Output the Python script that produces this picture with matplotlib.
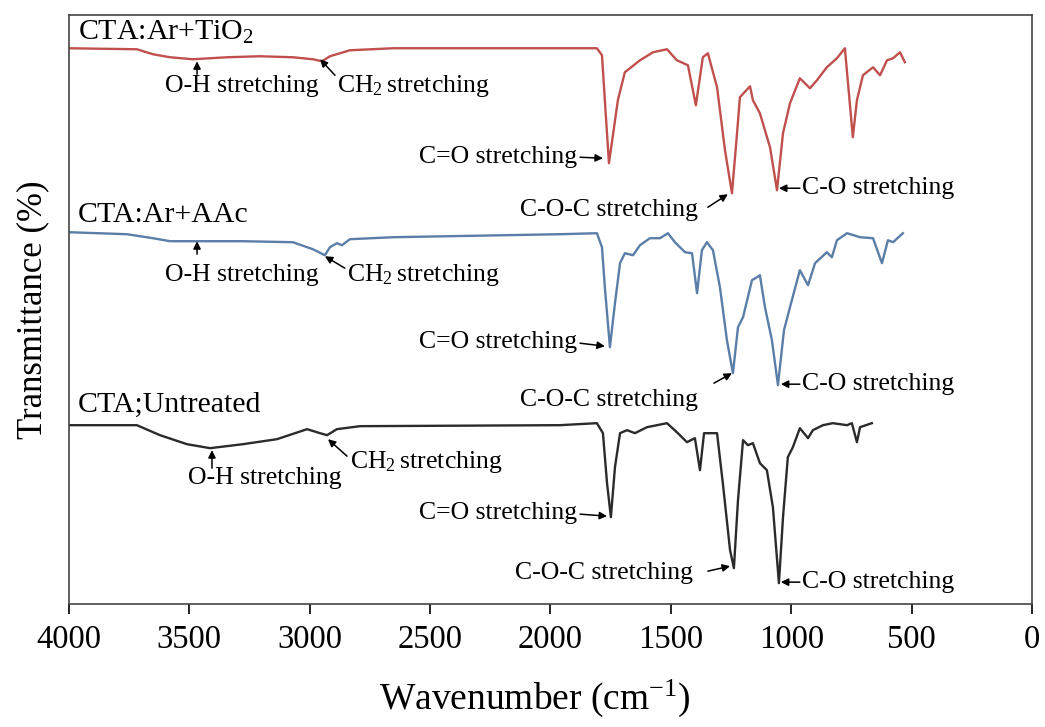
import matplotlib
matplotlib.use("Agg")
import matplotlib.pyplot as plt

plt.rcParams['font.family'] = ['Liberation Serif', 'DejaVu Serif']
plt.rcParams['mathtext.fontset'] = 'custom'
plt.rcParams['mathtext.rm'] = 'Liberation Serif'
plt.rcParams['mathtext.default'] = 'regular'

# wavenumber (cm-1) and apparent depth (top of plot = small value)
wn_tio2 = [4000, 3718, 3651, 3580, 3485, 3344, 3207, 3070, 2987, 2949, 2916, 2833, 2654,
           1807, 1786, 1774, 1757, 1720, 1691, 1628, 1574, 1516, 1475, 1429, 1396, 1367,
           1346, 1308, 1275, 1246, 1225, 1213, 1171, 1159, 1130, 1088, 1059, 1034, 1005,
           964, 922, 893, 852, 810, 777, 764, 744, 727, 702, 660, 631, 602, 577, 548, 528]
t_tio2 = [48, 49, 54, 57, 59, 57, 56, 57, 59, 61, 56, 50, 48,
          48, 55, 100, 163, 100, 72, 60, 52, 49, 60, 65, 105, 57,
          53, 87, 150, 193, 133, 97, 86, 100, 113, 147, 190, 133, 103,
          78, 88, 80, 67, 58, 48, 83, 137, 100, 75, 67, 75, 60, 58, 52, 62]

wn_aac = [4000, 3759, 3651, 3580, 3485, 3277, 3070, 2987, 2937, 2916, 2887, 2866, 2833,
          2654, 1961, 1807, 1786, 1774, 1753, 1732, 1711, 1691, 1657, 1628, 1587, 1545,
          1512, 1483, 1441, 1412, 1391, 1371, 1350, 1325, 1296, 1267, 1242, 1221, 1200,
          1163, 1142, 1130, 1109, 1080, 1055, 1030, 1005, 964, 930, 901, 852, 831, 810,
          768, 714, 660, 623, 598, 577, 536]
t_aac = [232, 234, 238, 241, 241, 241, 242, 249, 255, 247, 243, 245, 239,
         237, 234, 233, 247, 287, 347, 303, 263, 253, 255, 245, 238, 238,
         233, 242, 252, 253, 293, 250, 242, 250, 287, 340, 373, 327, 317,
         280, 277, 275, 307, 340, 385, 330, 307, 270, 285, 263, 252, 257, 240,
         233, 237, 238, 263, 240, 242, 233]

wn_untr = [4000, 3718, 3622, 3510, 3414, 3277, 3136, 3011, 2957, 2928, 2887, 2791, 1961,
           1807, 1782, 1765, 1749, 1732, 1711, 1682, 1649, 1599, 1516, 1475, 1433, 1400,
           1379, 1362, 1308, 1284, 1254, 1238, 1221, 1200, 1180, 1159, 1130, 1101, 1076,
           1051, 1034, 1014, 993, 964, 930, 910, 868, 827, 768, 748, 727, 714, 665]
t_untr = [425, 425, 435, 444, 448, 444, 439, 429, 433, 435, 429, 426, 425,
          423, 433, 483, 517, 467, 433, 430, 433, 427, 423, 432, 442, 438,
          470, 433, 433, 483, 550, 568, 500, 440, 445, 443, 463, 470, 507,
          583, 517, 457, 447, 428, 438, 430, 425, 423, 425, 423, 442, 427, 423]

fig = plt.figure(figsize=(10.45, 7.27), dpi=100)
ax = fig.add_axes([0.066, 0.169, 0.9215, 0.81])

ax.plot(wn_tio2, t_tio2, color='#c0504d', lw=1.7, solid_joinstyle='round')
ax.plot(wn_aac, t_aac, color='#5a7ea8', lw=1.7, solid_joinstyle='round')
ax.plot(wn_untr, t_untr, color='#2b2b2b', lw=1.7, solid_joinstyle='round')

ax.set_xlim(4000, 0)
ax.set_ylim(604, 15)
ax.set_xticks(range(0, 4001, 500))
ax.set_yticks([])
ax.tick_params(axis='x', direction='out', length=7, width=1.2, pad=8, labelsize=23.5)
for s in ax.spines.values():
    s.set_color('#444444')
    s.set_linewidth(1.2)

ax.set_xlabel('Wavenumber (cm$^{-1}$)', fontsize=27)
ax.xaxis.set_label_coords(0.484, -0.125)
ax.set_ylabel('Transmittance (%)', fontsize=25, labelpad=14)

lab = 21.5
ann = 18.5
arr = dict(arrowstyle='-|>', color='black', lw=1.1, mutation_scale=11, shrinkA=0, shrinkB=0)


def note(txt, tx, ty, tail, tip, ha='left'):
    ax.text(tx, ty, txt, fontsize=ann, ha=ha, va='center')
    ax.annotate('', xy=tip, xytext=tail, arrowprops=arr)


# sample labels
ax.text(3963, 32, 'CTA:Ar+TiO$_2$', fontsize=lab, va='center')
ax.text(3963, 215, 'CTA:Ar+AAc', fontsize=lab, va='center')
ax.text(3963, 405, 'CTA;Untreated', fontsize=lab, va='center')

ch2 = 'CH$_2\\,$stretching'

# CTA:Ar+TiO2
note('O-H stretching', 3601, 86, (3468, 74), (3468, 61))
note(ch2, 2887, 86, (2895, 75), (2957, 59))
note('C=O stretching', 1890, 157, (1877, 157), (1782, 158), ha='right')
note('C-O-C stretching', 2127, 210, (1346, 207), (1263, 194))
note('C-O stretching', 955, 188, (964, 188), (1051, 188))

# CTA:Ar+AAc
note('O-H stretching', 3601, 275, (3468, 254), (3468, 241))
note(ch2, 2845, 275, (2854, 268), (2937, 256))
note('C=O stretching', 1890, 342, (1877, 343), (1774, 346), ha='right')
note('C-O-C stretching', 2127, 400, (1321, 383), (1246, 373))
note('C-O stretching', 955, 384, (964, 384), (1043, 384))

# CTA;Untreated
note('O-H stretching', 3506, 478, (3406, 468), (3406, 450))
note(ch2, 2833, 462, (2845, 456), (2924, 439))
note('C=O stretching', 1890, 513, (1877, 514), (1765, 516), ha='right')
note('C-O-C stretching', 2148, 573, (1346, 571), (1254, 566))
note('C-O stretching', 955, 582, (964, 582), (1043, 582))

fig.savefig('out.png', dpi=100)
